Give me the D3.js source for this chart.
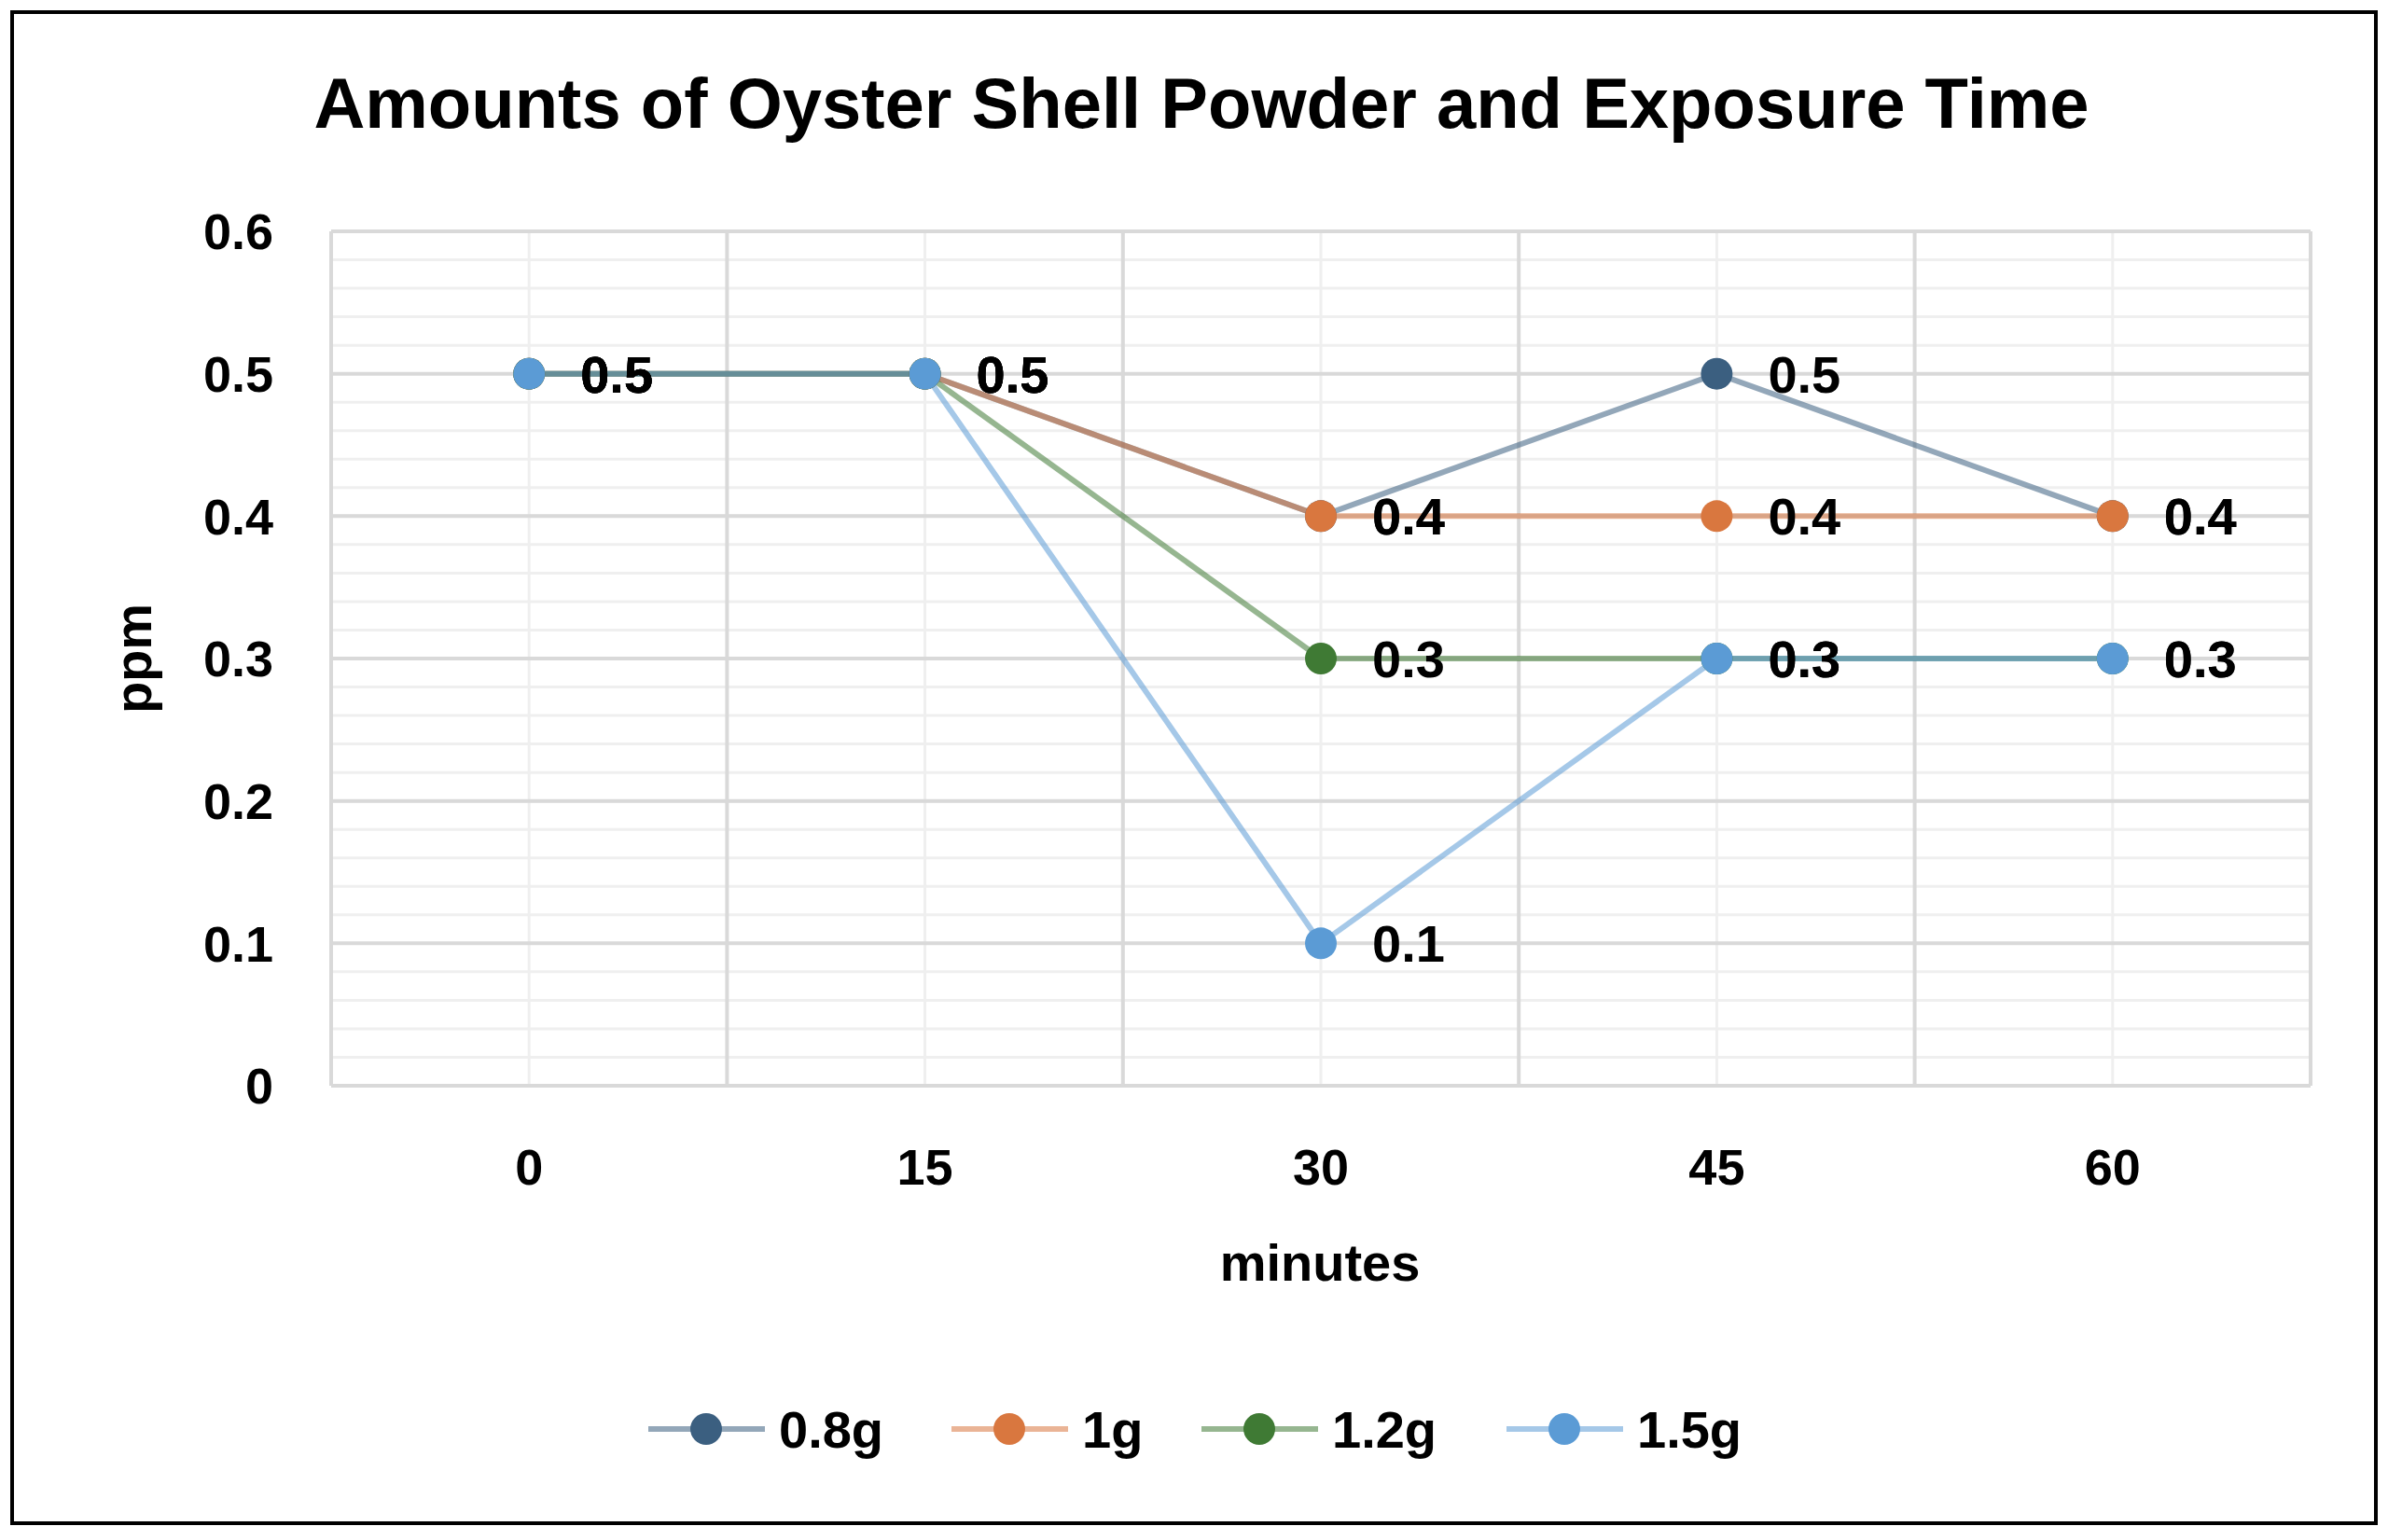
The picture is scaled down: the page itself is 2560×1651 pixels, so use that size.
<!DOCTYPE html>
<html>
<head>
<meta charset="utf-8">
<script src="https://cdn.jsdelivr.net/npm/d3@7"></script>
<style>
body { margin: 0; background: #fff; }
text { font-family: Arial, "Liberation Sans", sans-serif; font-weight: bold; fill: #000; }
</style>
</head>
<body>
<svg id="chart" width="2560" height="1651"></svg>
<script>
var minutes = ["0", "15", "30", "45", "60"];
var seriesNames = ["0.8g", "1g", "1.2g", "1.5g"];
var seriesColors = ["#3b5f80", "#d9773f", "#3f7a34", "#5b9bd5"];
var values08 = [0.5, 0.5, 0.4, 0.5, 0.4];
var values1 = [0.5, 0.5, 0.4, 0.4, 0.4];
var values12 = [0.5, 0.5, 0.3, 0.3, 0.3];
var values15 = [0.5, 0.5, 0.1, 0.3, 0.3];
var yTicks = [0, 0.1, 0.2, 0.3, 0.4, 0.5, 0.6];

var allValues = [values08, values1, values12, values15];
var svg = d3.select("#chart");

// outer frame
svg.append("rect").attr("x", 13).attr("y", 13).attr("width", 2534).attr("height", 1620)
  .attr("fill", "#fff").attr("stroke", "#000").attr("stroke-width", 4);

var plotLeft = 355, plotRight = 2477, plotTop = 248, plotBottom = 1164;
var x = d3.scaleBand().domain(minutes).range([plotLeft, plotRight]);
var y = d3.scaleLinear().domain([0, 0.6]).range([plotBottom, plotTop]);

// minor horizontal gridlines
svg.append("g").selectAll("line").data(d3.range(0, 0.6001, 0.02)).join("line")
  .attr("x1", plotLeft).attr("x2", plotRight)
  .attr("y1", function (d) { return y(d); }).attr("y2", function (d) { return y(d); })
  .attr("stroke", "#efefef").attr("stroke-width", 3);
// minor vertical gridlines at category centres
svg.append("g").selectAll("line").data(minutes).join("line")
  .attr("x1", function (d) { return x(d) + x.bandwidth() / 2; })
  .attr("x2", function (d) { return x(d) + x.bandwidth() / 2; })
  .attr("y1", plotTop).attr("y2", plotBottom)
  .attr("stroke", "#efefef").attr("stroke-width", 3);
// major gridlines
svg.append("g").selectAll("line").data(yTicks).join("line")
  .attr("x1", plotLeft).attr("x2", plotRight)
  .attr("y1", function (d) { return y(d); }).attr("y2", function (d) { return y(d); })
  .attr("stroke", "#d9d9d9").attr("stroke-width", 4);
svg.append("g").selectAll("line").data(minutes.concat(["end"])).join("line")
  .attr("x1", function (d, i) { return plotLeft + i * x.bandwidth(); })
  .attr("x2", function (d, i) { return plotLeft + i * x.bandwidth(); })
  .attr("y1", plotTop).attr("y2", plotBottom)
  .attr("stroke", "#d9d9d9").attr("stroke-width", 4);

// axes
var yAxis = svg.append("g").attr("transform", "translate(" + plotLeft + ",0)")
  .call(d3.axisLeft(y).tickValues(yTicks).tickSize(0).tickPadding(62)
    .tickFormat(function (d) { return d === 0 ? "0" : d3.format(".1f")(d); }));
yAxis.select(".domain").remove();
yAxis.selectAll("text").attr("font-size", 54).attr("dy", "0.35em");

var xAxis = svg.append("g").attr("transform", "translate(0," + plotBottom + ")")
  .call(d3.axisBottom(x).tickSize(0).tickPadding(68));
xAxis.select(".domain").remove();
xAxis.selectAll("text").attr("font-size", 54).attr("dy", "0.71em");

// titles
svg.append("text").attr("x", 1288).attr("y", 137).attr("text-anchor", "middle")
  .attr("font-size", 76).text("Amounts of Oyster Shell Powder and Exposure Time");
svg.append("text").attr("x", 1415).attr("y", 1373).attr("text-anchor", "middle")
  .attr("font-size", 56).text("minutes");
svg.append("text").attr("transform", "translate(162,706) rotate(-90)").attr("text-anchor", "middle")
  .attr("font-size", 56).text("ppm");

var cx = function (d, i) { return x(minutes[i]) + x.bandwidth() / 2; };
var line = d3.line().x(cx).y(function (d) { return y(d); });

allValues.forEach(function (vals, s) {
  svg.append("path").datum(vals).attr("d", line).attr("fill", "none")
    .attr("stroke", seriesColors[s]).attr("stroke-opacity", 0.55).attr("stroke-width", 6);
});
allValues.forEach(function (vals, s) {
  var g = svg.append("g");
  g.selectAll("circle").data(vals).join("circle")
    .attr("cx", cx).attr("cy", function (d) { return y(d); }).attr("r", 17)
    .attr("fill", seriesColors[s]);
  g.selectAll("text").data(vals).join("text")
    .attr("x", function (d, i) { return cx(d, i) + 55; })
    .attr("y", function (d) { return y(d); }).attr("dy", "0.36em")
    .attr("font-size", 56).text(function (d) { return d3.format(".1f")(d); });
});

// legend
var legendX = [695, 1020, 1288, 1615];
seriesNames.forEach(function (name, s) {
  var g = svg.append("g").attr("transform", "translate(" + legendX[s] + ",1532)");
  g.append("line").attr("x1", 0).attr("x2", 125).attr("stroke", seriesColors[s])
    .attr("stroke-opacity", 0.55).attr("stroke-width", 6);
  g.append("circle").attr("cx", 62).attr("r", 17).attr("fill", seriesColors[s]);
  g.append("text").attr("x", 140).attr("dy", "0.36em").attr("font-size", 56).text(name);
});
</script>
</body>
</html>
